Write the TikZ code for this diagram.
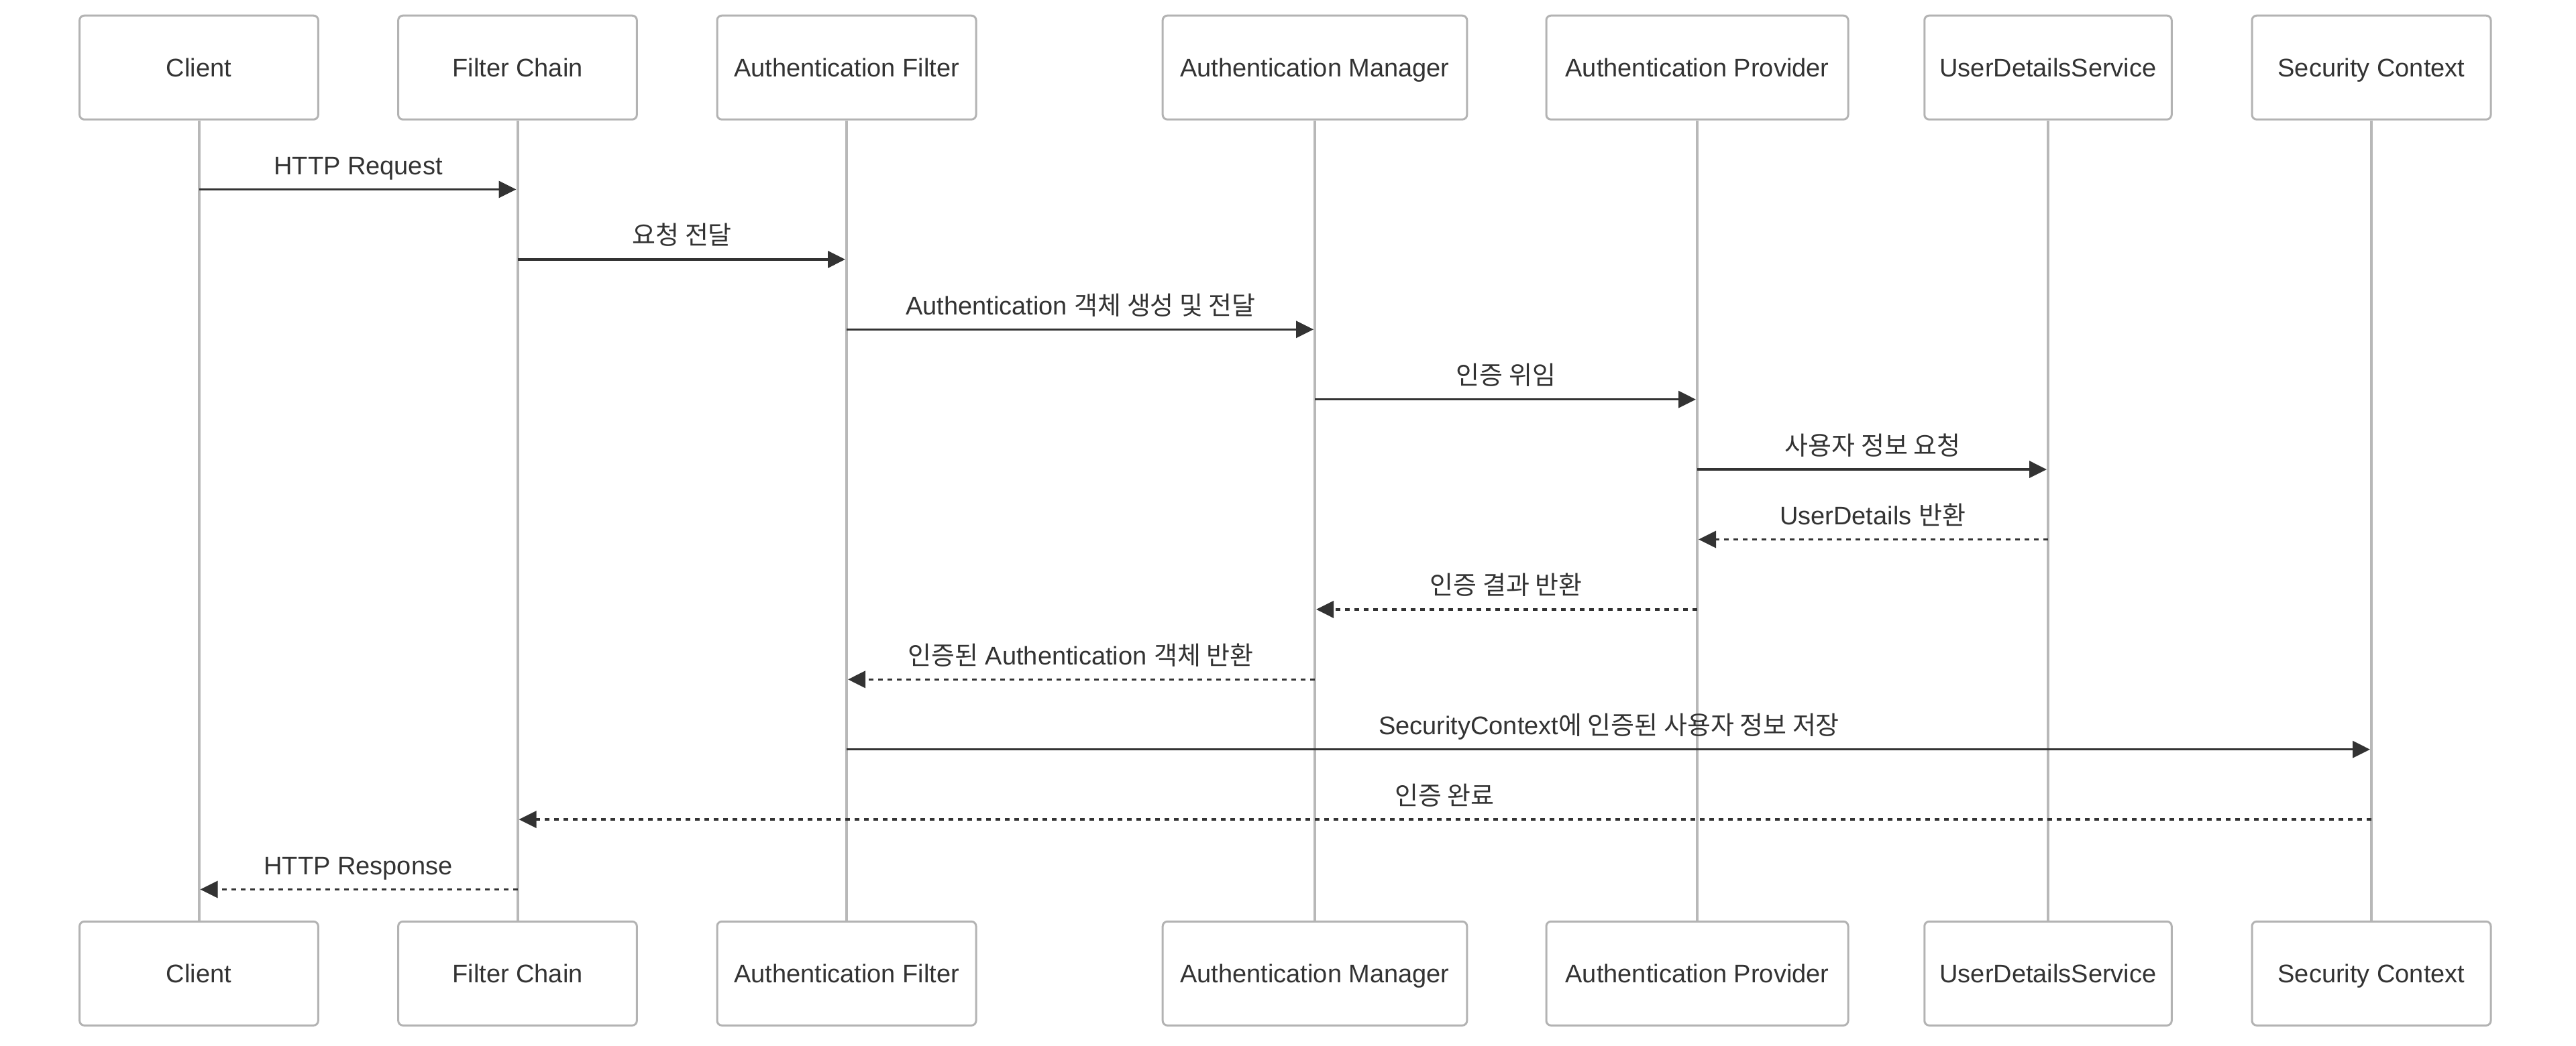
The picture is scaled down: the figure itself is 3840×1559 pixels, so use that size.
\documentclass[tikz,border=0pt]{standalone}
\usepackage{fontspec}
\setmainfont{Liberation Sans}
\newfontfamily\kr{Noto Sans CJK KR}
\usetikzlibrary{arrows.meta}
\definecolor{txt}{HTML}{333333}
\definecolor{bord}{HTML}{B3B3B3}
\definecolor{life}{HTML}{B8B8B8}
\begin{document}
\begin{tikzpicture}[x=0.5pt,y=-0.5pt,
  actor/.style={draw=bord, line width=1.5pt, rounded corners=3.5pt, fill=white,
    minimum height=77.5pt, inner sep=0pt, text=txt,
    font=\fontsize{19pt}{23pt}\selectfont, text height=13.6pt, text depth=0pt},
  lifeline/.style={draw=life, line width=2pt},
  msg/.style={draw=txt, line width=1.75pt, shorten >=1pt,
    -{Triangle[length=13pt,width=12.5pt]}},
  reply/.style={msg, dash pattern=on 3.5pt off 3.5pt},
  lbl/.style={text=txt, font=\fontsize{19pt}{23pt}\selectfont, anchor=base,
    inner sep=0pt, yshift=11pt, pos=0.5}
]
\fill[white] (0,0) rectangle (3840,1559);
\useasboundingbox (0,0) rectangle (3840,1559);

% top actors
\node[actor, minimum width=177.85pt] (cl) at (296.5,100.7) {Client};
\node[actor, minimum width=177.85pt] (fc) at (771.5,100.7) {Filter Chain};
\node[actor, minimum width=193pt] (af) at (1262,100.7) {Authentication Filter};
\node[actor, minimum width=226.8pt] (am) at (1960,100.7) {Authentication Manager};
\node[actor, minimum width=225pt] (ap) at (2530,100.7) {Authentication Provider};
\node[actor, minimum width=184.25pt] (ud) at (3053,100.7) {UserDetailsService};
\node[actor, minimum width=178pt] (sc) at (3535,100.7) {Security Context};

% bottom actors
\node[actor, minimum width=177.85pt] (clb) at (296.5,1451.8) {Client};
\node[actor, minimum width=177.85pt] (fcb) at (771.5,1451.8) {Filter Chain};
\node[actor, minimum width=193pt] (afb) at (1262,1451.8) {Authentication Filter};
\node[actor, minimum width=226.8pt] (amb) at (1960,1451.8) {Authentication Manager};
\node[actor, minimum width=225pt] (apb) at (2530,1451.8) {Authentication Provider};
\node[actor, minimum width=184.25pt] (udb) at (3053,1451.8) {UserDetailsService};
\node[actor, minimum width=178pt] (scb) at (3535,1451.8) {Security Context};

% lifelines
\foreach \a in {cl,fc,af,am,ap,ud,sc}{
  \draw[lifeline] (\a.south) -- (\a b.north);
}

% message end points
\coordinate (m1a) at (cl |- 0,282.5);   \coordinate (m1b) at (fc |- 0,282.5);
\coordinate (m2a) at (fc |- 0,386.9);   \coordinate (m2b) at (af |- 0,386.9);
\coordinate (m3a) at (af |- 0,491.3);   \coordinate (m3b) at (am |- 0,491.3);
\coordinate (m4a) at (am |- 0,595.7);   \coordinate (m4b) at (ap |- 0,595.7);
\coordinate (m5a) at (ap |- 0,700.1);   \coordinate (m5b) at (ud |- 0,700.1);
\coordinate (m6a) at (ud |- 0,804.5);   \coordinate (m6b) at (ap |- 0,804.5);
\coordinate (m7a) at (ap |- 0,908.9);   \coordinate (m7b) at (am |- 0,908.9);
\coordinate (m8a) at (am |- 0,1013.3);  \coordinate (m8b) at (af |- 0,1013.3);
\coordinate (m9a) at (af |- 0,1117.7);  \coordinate (m9b) at (sc |- 0,1117.7);
\coordinate (m10a) at (sc |- 0,1222.1); \coordinate (m10b) at (fc |- 0,1222.1);
\coordinate (m11a) at (fc |- 0,1326.5); \coordinate (m11b) at (cl |- 0,1326.5);

% messages
\draw[msg] (m1a) -- node[lbl]{HTTP Request} (m1b);
\draw[msg] (m2a) -- node[lbl]{{\kr 요청 전달}} (m2b);
\draw[msg] (m3a) -- node[lbl]{Authentication {\kr 객체 생성 및 전달}} (m3b);
\draw[msg] (m4a) -- node[lbl]{{\kr 인증 위임}} (m4b);
\draw[msg] (m5a) -- node[lbl]{{\kr 사용자 정보 요청}} (m5b);
\draw[reply] (m6a) -- node[lbl]{UserDetails {\kr 반환}} (m6b);
\draw[reply] (m7a) -- node[lbl]{{\kr 인증 결과 반환}} (m7b);
\draw[reply] (m8a) -- node[lbl]{{\kr 인증된} Authentication {\kr 객체 반환}} (m8b);
\draw[msg] (m9a) -- node[lbl]{SecurityContext{\kr 에 인증된 사용자 정보 저장}} (m9b);
\draw[reply] (m10a) -- node[lbl]{{\kr 인증 완료}} (m10b);
\draw[reply] (m11a) -- node[lbl]{HTTP Response} (m11b);
\end{tikzpicture}
\end{document}
